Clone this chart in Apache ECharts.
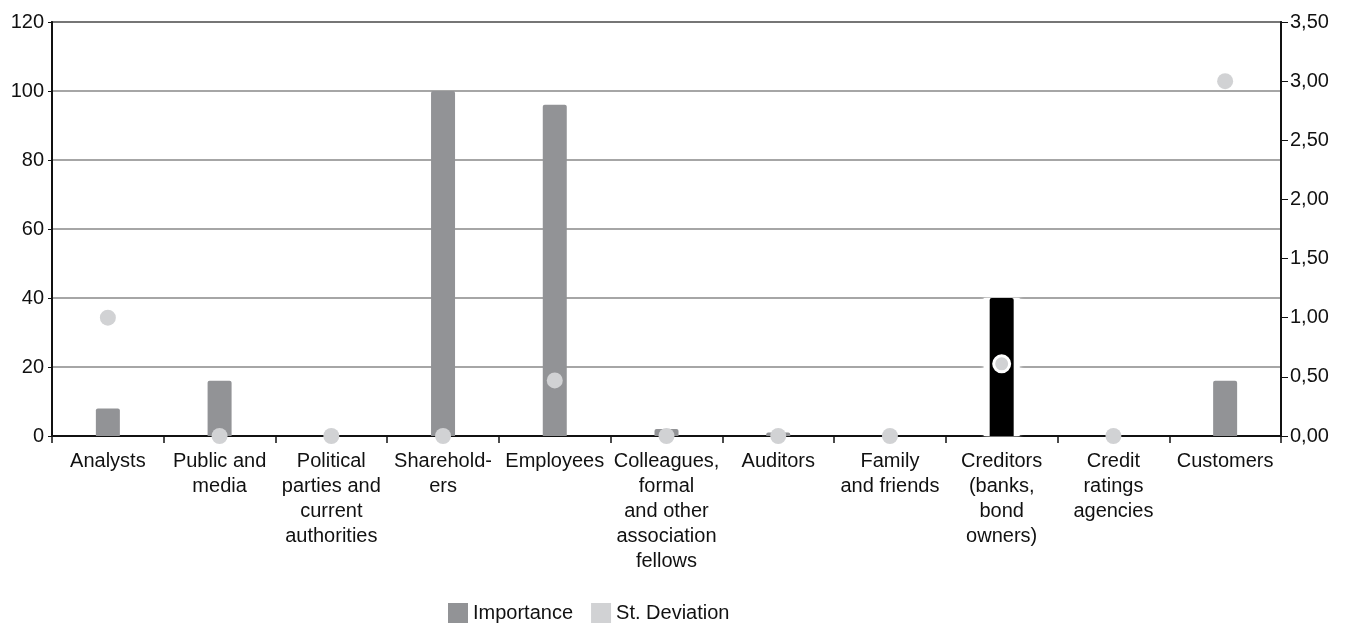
<!DOCTYPE html>
<html>
<head>
<meta charset="utf-8">
<script src="https://cdn.jsdelivr.net/npm/echarts@6/dist/echarts.min.js"></script>
<style>
  html, body { margin: 0; padding: 0; background: #fff; }
  #chart { width: 1348px; height: 628px; }
</style>
</head>
<body>
<div id="chart"></div>
<script>
// data
let categories = ['Analysts', 'Public and\nmedia', 'Political\nparties and\ncurrent\nauthorities', 'Sharehold-\ners',
  'Employees', 'Colleagues,\nformal\nand other\nassociation\nfellows', 'Auditors', 'Family\nand friends',
  'Creditors\n(banks,\nbond\nowners)', 'Credit\nratings\nagencies', 'Customers'];
let importance = [8, 16, 0, 100, 96, 2, 1, 0, 40, 0, 16];
let stDeviation = [1.0, 0, 0, 0, 0.47, 0, 0, 0, 0.61, 0, 3.0];
let highlightIndex = 8;

let font = "'Liberation Sans', Arial, sans-serif";
let colorBar = '#929396';
let colorDot = '#d1d2d4';

let dom = document.getElementById('chart');
let chart = echarts.init(dom);

// highlighted category: black bar + white halo drawn behind it
let barData = importance.map(function (v, i) {
  if (i === highlightIndex) {
    return {value: v, itemStyle: {color: '#000'}};
  }
  return v;
});
let haloData = importance.map(function (v, i) {
  return i === highlightIndex ? v : '-';
});
let dotData = stDeviation.map(function (v, i) {
  if (i === highlightIndex) {
    return {value: v, itemStyle: {color: colorDot, borderColor: '#fff', borderWidth: 3}};
  }
  return v;
});

let option = {
  animation: false,
  textStyle: {fontFamily: font},
  grid: {
    left: 52,
    right: 67,
    top: 22,
    bottom: 192,
    show: true,
    borderColor: '#000',
    borderWidth: 1.5
  },
  legend: {
    bottom: 0,
    left: 443,
    itemWidth: 20,
    itemHeight: 20,
    itemGap: 18,
    textStyle: {fontFamily: font, fontSize: 20, color: '#111'},
    data: [
      {name: 'Importance', icon: 'rect', itemStyle: {color: colorBar}},
      {name: 'St. Deviation', icon: 'rect', itemStyle: {color: colorDot}}
    ]
  },
  xAxis: [
    {
      type: 'category',
      data: categories,
      axisLine: {lineStyle: {color: '#111', width: 2}},
      axisTick: {show: true, alignWithLabel: false, length: 7, lineStyle: {color: '#111', width: 1.5}},
      axisLabel: {
        interval: 0,
        fontFamily: font,
        fontSize: 20,
        color: '#111',
        lineHeight: 25,
        margin: 13,
        align: 'center'
      }
    },
    {
      type: 'category',
      data: categories,
      show: false
    }
  ],
  yAxis: [
    {
      type: 'value',
      min: 0,
      max: 120,
      interval: 20,
      axisLine: {show: true, lineStyle: {color: '#111', width: 2}},
      axisTick: {show: true, length: 4, lineStyle: {color: '#111'}},
      axisLabel: {fontFamily: font, fontSize: 20, color: '#111', margin: 8},
      splitLine: {lineStyle: {color: '#888', width: 1.5}}
    },
    {
      type: 'value',
      min: 0,
      max: 3.5,
      interval: 0.5,
      position: 'right',
      axisLine: {show: true, lineStyle: {color: '#111', width: 2}},
      axisTick: {show: true, inside: false, length: 7, lineStyle: {color: '#111'}},
      axisLabel: {
        fontFamily: font,
        fontSize: 20,
        color: '#111',
        margin: 9,
        formatter: function (v) {
          return v.toFixed(2).replace('.', ',');
        }
      },
      splitLine: {show: false}
    }
  ],
  series: [
    {
      name: 'Halo',
      type: 'bar',
      xAxisIndex: 1,
      yAxisIndex: 0,
      barWidth: 36,
      silent: true,
      z: 1,
      itemStyle: {color: '#fff', shadowColor: '#fff', shadowBlur: 4},
      data: haloData
    },
    {
      name: 'Importance',
      type: 'bar',
      yAxisIndex: 0,
      barWidth: 24,
      z: 3,
      itemStyle: {color: colorBar, borderRadius: [2, 2, 0, 0]},
      data: barData
    },
    {
      name: 'St. Deviation',
      type: 'scatter',
      yAxisIndex: 1,
      symbol: 'circle',
      symbolSize: 16,
      itemStyle: {color: colorDot, opacity: 1},
      data: dotData,
      z: 5
    }
  ]
};

chart.setOption(option);
</script>
</body>
</html>
